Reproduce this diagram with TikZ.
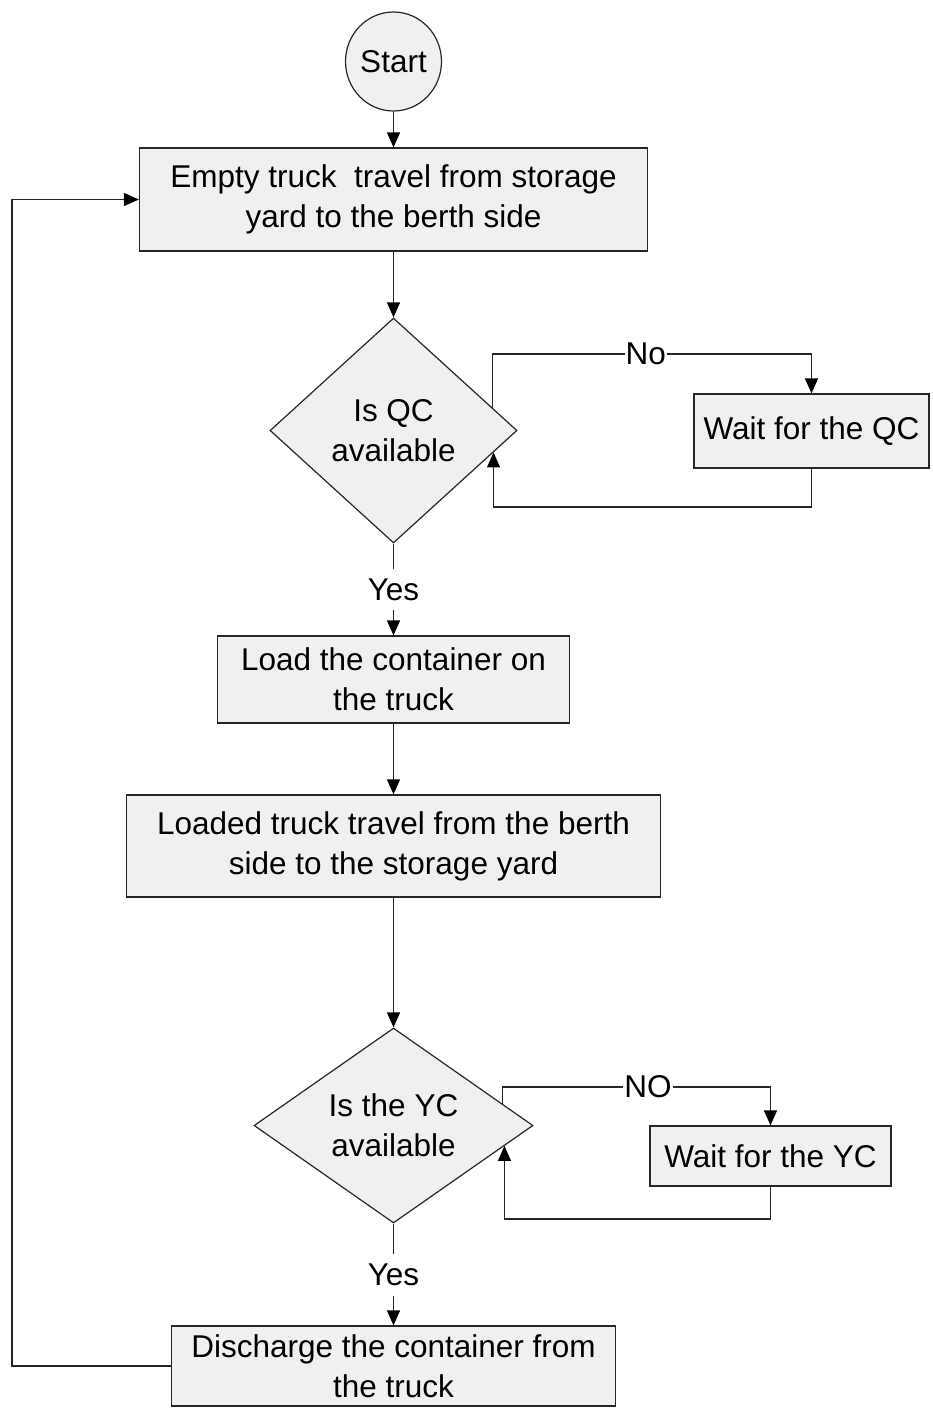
\documentclass[tikz,border=0pt]{standalone}
\usepackage{fontspec}
\setmainfont{Liberation Sans}
\usetikzlibrary{shapes.geometric,arrows.meta,calc}
\definecolor{boxfill}{HTML}{F0F0F0}
\definecolor{linec}{HTML}{262626}
\begin{document}
\begin{tikzpicture}[x=0.5pt,y=-0.5pt,
  every node/.style={font=\fontsize{15.75}{20}\selectfont, text=black},
  procbox/.style={draw=linec, fill=boxfill, line width=0.6pt, rectangle, inner sep=0pt, align=center},
  decbox/.style={draw=linec, fill=boxfill, line width=0.6pt, diamond, inner sep=0pt, align=center},
  conn/.style={draw=linec, line width=0.6pt},
  arr/.style={conn, -{Triangle[length=7.5pt,width=6.5pt,color=black]}},
  lbl/.style={fill=white, inner xsep=0.5pt, inner ysep=5pt}
]
\useasboundingbox[fill=white] (0,0) rectangle (932,1414);
% nodes
\node[draw=linec, fill=boxfill, line width=0.6pt, ellipse, minimum width=48pt, minimum height=49.5pt, inner sep=0pt] (start) at (393.5,61.5) {Start};
\node[procbox, minimum width=254pt, minimum height=51.5pt] (b1) at (393.5,199.5) {Empty truck\ \ travel from storage\\yard to the berth side};
\node[decbox, minimum width=123.5pt, minimum height=112.5pt] (d1) at (393.5,430.5) {Is QC\\available};
\node[procbox, minimum width=117.5pt, minimum height=37pt] (qc) at (811.5,431) {Wait for the QC};
\node[procbox, minimum width=176pt, minimum height=43.5pt] (b2) at (393.5,679.5) {Load the container on\\the truck};
\node[procbox, minimum width=267pt, minimum height=51pt] (b3) at (393.5,846) {Loaded truck travel from the berth\\side to the storage yard};
\node[decbox, minimum width=139.5pt, minimum height=97.5pt] (d2) at (393.5,1125.5) {Is the YC\\available};
\node[procbox, minimum width=120.5pt, minimum height=30pt] (yc) at (770.5,1156) {Wait for the YC};
\node[procbox, minimum width=222pt, minimum height=40pt] (b4) at (393.5,1366) {Discharge the container from\\the truck};
% helper coordinates
\coordinate (n1) at ($(d1.east)!0.2!(d1.north)$);
\coordinate (r1) at ($(d1.east)!0.194!(d1.south)$);
\coordinate (n2) at ($(d2.east)!0.222!(d2.north)$);
\coordinate (r2) at ($(d2.east)!0.208!(d2.south)$);
\coordinate (noy1) at (0,354);
\coordinate (rety1) at (0,507);
\coordinate (noy2) at (0,1087);
\coordinate (rety2) at (0,1219);
\coordinate (lx) at (12,0);
% connectors
\draw[arr] (start.south) -- (b1.north);
\draw[arr] (b1.south) -- (d1.north);
\draw[arr] (d1.south) -- node[lbl]{Yes} (b2.north);
\draw[arr] (b2.south) -- (b3.north);
\draw[arr] (b3.south) -- (d2.north);
\draw[arr] (d2.south) -- node[lbl]{Yes} (b4.north);
\draw[arr] (n1) -- (n1 |- noy1) -- node[lbl,pos=0.48]{No} (qc.north |- noy1) -- (qc.north);
\draw[arr] (qc.south) -- (qc.south |- rety1) -- (r1 |- rety1) -- (r1);
\draw[arr] (n2) -- (n2 |- noy2) -- node[lbl,pos=0.543]{NO} (yc.north |- noy2) -- (yc.north);
\draw[arr] (yc.south) -- (yc.south |- rety2) -- (r2 |- rety2) -- (r2);
\draw[arr] (b4.west) -- (b4.west -| lx) -- (b1.west -| lx) -- (b1.west);
\end{tikzpicture}
\end{document}
